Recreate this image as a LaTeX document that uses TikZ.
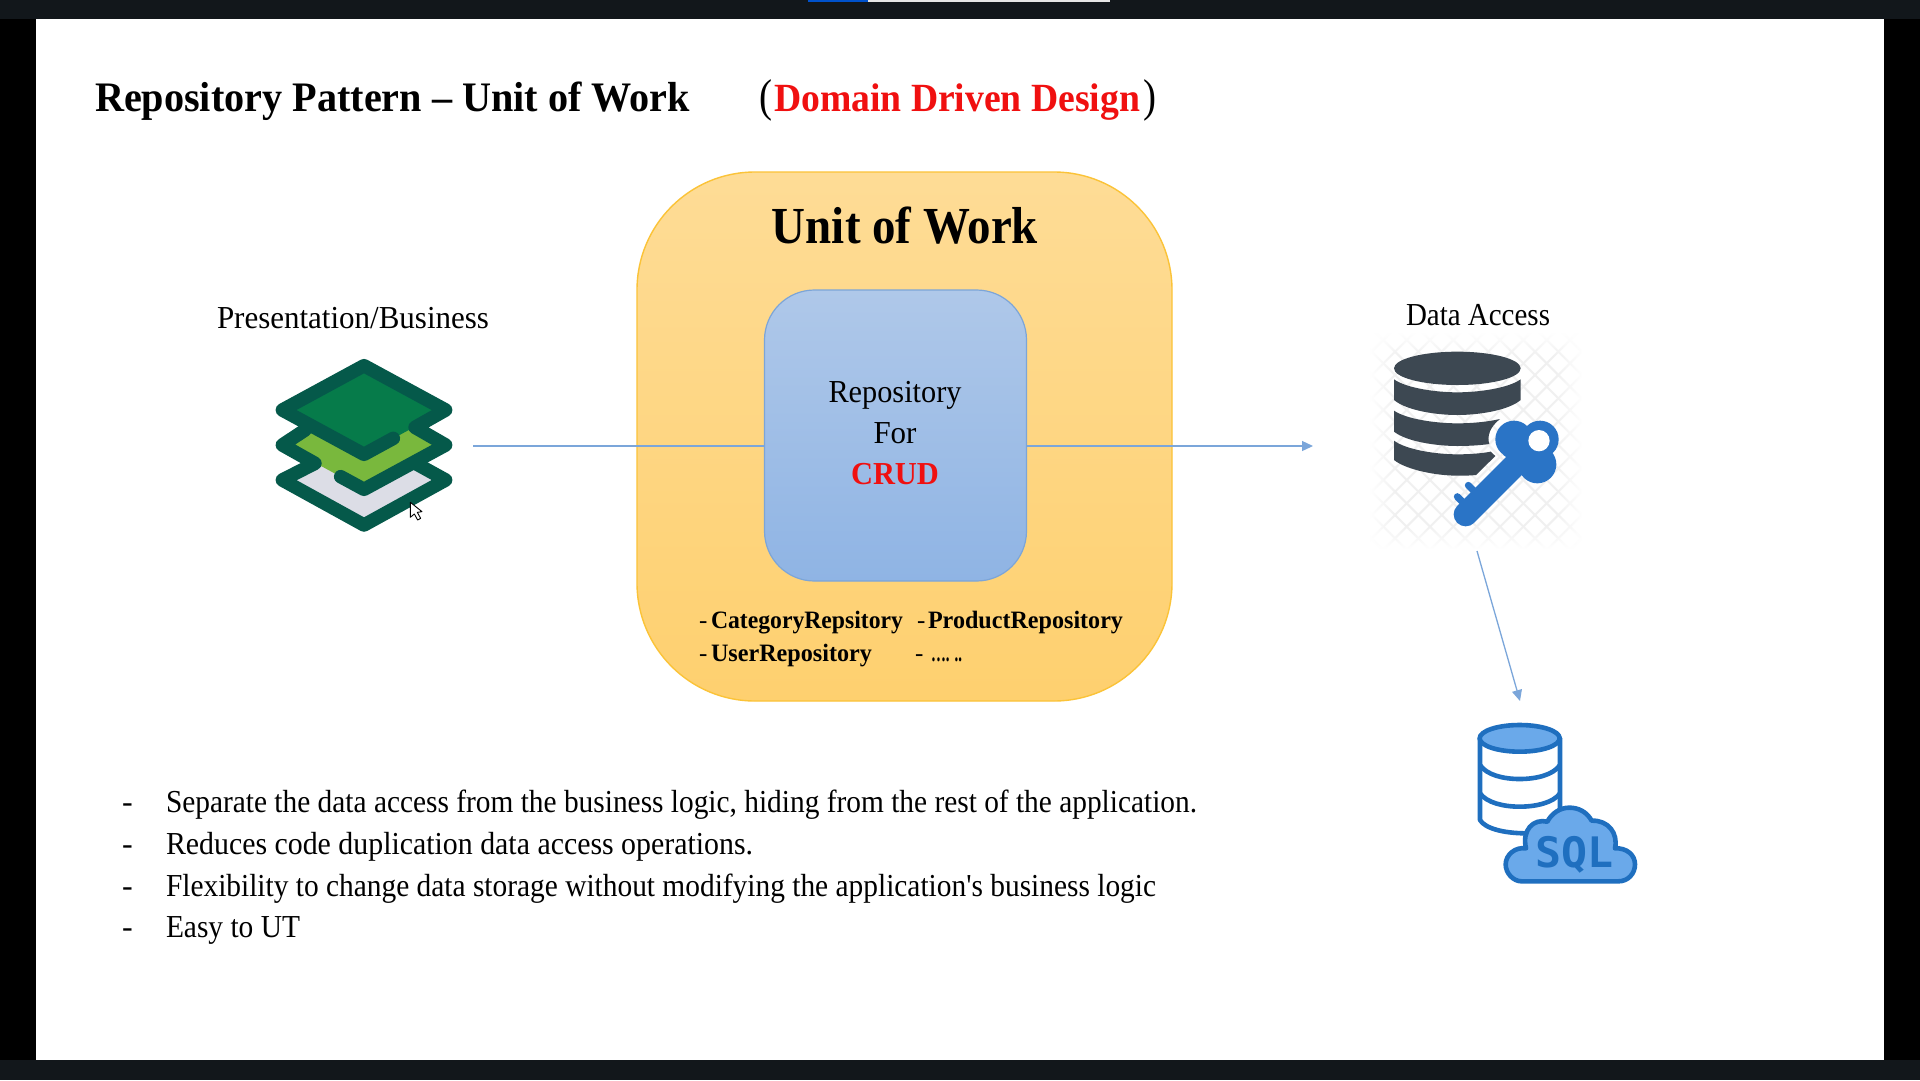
\documentclass[tikz,border=0pt]{standalone}
\usepackage{fontspec}
\usepackage{graphicx}
\setmainfont[Ligatures=TeXOff]{Liberation Serif}
\usetikzlibrary{arrows.meta,fadings}
\definecolor{barbg}{HTML}{12171B}
\definecolor{linkblue}{HTML}{7BA6DA}
\definecolor{layerdark}{HTML}{05594A}
\definecolor{layertop}{HTML}{067B4A}
\definecolor{layermid}{HTML}{79B83D}
\definecolor{layerlow}{HTML}{DCDDE6}
\definecolor{dbdark}{HTML}{3D4852}
\definecolor{keyblue}{HTML}{2A74C6}
\definecolor{sqlline}{HTML}{1F6FBF}
\definecolor{sqlfill}{HTML}{6AA9EA}
\definecolor{redtxt}{HTML}{F01010}
\definecolor{ffa}{HTML}{FEDC96}
\definecolor{ffb}{HTML}{FED06F}
\definecolor{fbord}{HTML}{FBC338}
\definecolor{bba}{HTML}{AFC8E9}
\definecolor{bbb}{HTML}{8FB4E4}
\definecolor{bbord}{HTML}{7CA5D8}
\newcommand{\fitw}[2]{\resizebox{#1pt}{\height}{#2}}
\newcommand{\fsz}[1]{\fontsize{#1}{#1}\selectfont}
\tikzset{
  txt/.style={inner sep=0pt,outer sep=0pt,anchor=base west,text=black},
  ctr/.style={inner sep=0pt,outer sep=0pt,anchor=base,text=black},
  link/.style={draw=linkblue,line width=1.3pt},
  linka/.style={link,-{Triangle[length=11pt,width=10pt]}},
  outerbox/.style={inner sep=0pt,outer sep=0pt,minimum width=535pt,minimum height=529pt,rounded corners=118pt,top color=ffa,bottom color=ffb,draw=fbord,line width=1.4pt},
  innerbox/.style={inner sep=0pt,outer sep=0pt,minimum width=262pt,minimum height=291pt,rounded corners=50pt,top color=bba,bottom color=bbb,draw=bbord,line width=1.2pt},
  stack/.style={draw=layerdark,line width=13.5pt,line cap=round,line join=round},
}
\begin{document}
\begin{tikzpicture}[x=1pt,y=-1pt]
\useasboundingbox (0,0) rectangle (1920,1080);
% screen frame
\fill[black] (0,0) rectangle (1920,1080);
\fill[white] (36,19) rectangle (1884,1060);
\fill[barbg] (0,0) rectangle (1920,19);
\fill[barbg] (0,1060) rectangle (1920,1080);
\fill[blue!60!cyan!80!black] (808,0) rectangle (868,1.5);
\fill[white!90!black] (868,0) rectangle (1110,1.5);
% title
\node[txt,font=\bfseries\fsz{42}] (title) at (95,111) {\fitw{595}{Repository Pattern – Unit of Work}};
\node[txt,font=\fsz{46}] (po) at (759,111) {\fitw{13}{(}};
\node[txt,font=\bfseries\fsz{40},text=redtxt] (ddd) at (774,111) {\fitw{366}{Domain Driven Design}};
\node[txt,font=\fsz{46}] (pc) at (1143,111) {\fitw{13}{)}};
% boxes
\node[outerbox] (uow) at (904.5,436.5) {};
\node[innerbox] (repo) at (895.5,435.5) {};
\node[ctr,font=\bfseries\fsz{52}] (uowt) at (905,243) {\fitw{266}{Unit of Work}};
\node[ctr,font=\fsz{32}] (r1) at (895,402) {\fitw{133}{Repository}};
\node[ctr,font=\fsz{32}] (r2) at (895,443) {\fitw{43}{For}};
\node[ctr,font=\bfseries\fsz{32},text=redtxt] (r3) at (895,484) {\fitw{88}{CRUD}};
\node[txt,font=\fsz{25}] (d1) at (699,628) {-};
\node[txt,font=\bfseries\fsz{25}] (l1) at (711,628) {\fitw{192}{CategoryRepsitory}};
\node[txt,font=\fsz{25}] (d2) at (917,628) {-};
\node[txt,font=\bfseries\fsz{25}] (l2) at (928,628) {\fitw{195}{ProductRepository}};
\node[txt,font=\fsz{25}] (d3) at (699,661) {-};
\node[txt,font=\bfseries\fsz{25}] (l3) at (711,661) {\fitw{161}{UserRepository}};
\node[txt,font=\fsz{25}] (d4) at (915,661) {-};
\node[txt,font=\bfseries\fsz{25}] (l4) at (931,661) {\fitw{31}{…. ..}};
% side labels
\node[ctr,font=\fsz{32}] (pb) at (353,328) {\fitw{272}{Presentation/Business}};
\node[ctr,font=\fsz{32}] (da) at (1478,325) {\fitw{144}{Data Access}};
% layers icon
\begin{scope}[shift={(240,330)},scale=1/3]
  \fill[layerlow] (372,317)--(617,450)--(372,585)--(127,450)--cycle;
  \fill[layermid] (372,212)--(617,345)--(372,478)--(127,345)--cycle;
  \fill[layertop] (372,107)--(617,240)--(372,373)--(127,240)--cycle;
  \draw[stack] (460,325)--(372,373)--(127,240)--(372,107)--(617,240)--(525,292)--(617,345)--(372,478)--(302,440);
  \draw[stack] (195,300)--(127,345)--(225,400)--(127,450)--(372,585)--(617,450)--(530,402);
  % pointer
  \draw[black,fill=white,line width=0.9pt,line join=round] (511,517)--(511,562)--(523,552)--(533,570)--(542,565)--(532,547)--(546,545)--cycle;
\end{scope}
\coordinate (pbout) at (473,446);
\coordinate (daout) at (1313,446);
% key database icon
\begin{scope}[shift={(1340,320)},scale=1/3]
  \begin{scope}
    \clip (90,40) rectangle (725,685);
    \foreach \k in {-700,-630,...,1400} {
      \draw[color=black!6,line width=2pt] (\k,0)--(\k+750,750);
      \draw[color=black!6,line width=2pt] (\k,750)--(\k+750,0);
    }
  \end{scope}
  \fill[white,path fading=east] (88,38) rectangle (170,687);
  \fill[white,path fading=west] (645,38) rectangle (727,687);
  \fill[white,path fading=south] (88,38) rectangle (727,110);
  \fill[white,path fading=north] (88,615) rectangle (727,687);
  \fill[dbdark] (352,145) ellipse [x radius=190,y radius=50];
  \fill[dbdark] (162,178) .. controls (200,205) and (290,217) .. (352,217) .. controls (414,217) and (504,205) .. (542,178) -- (542,240) .. controls (504,272) and (414,285) .. (352,285) .. controls (290,285) and (200,272) .. (162,240) -- cycle;
  \fill[dbdark] (162,272) .. controls (200,298) and (290,310) .. (352,310) .. controls (400,310) and (445,305) .. (480,297) .. controls (450,320) and (440,350) .. (448,372) .. controls (420,376) and (385,378) .. (352,378) .. controls (290,378) and (200,365) .. (162,335) -- cycle;
  \fill[dbdark] (162,362) .. controls (200,390) and (290,403) .. (352,403) .. controls (390,403) and (425,400) .. (452,395) -- (466,408) -- (408,465) .. controls (390,467) and (370,467) .. (352,467) .. controls (290,467) and (200,450) .. (162,420) -- cycle;
  % key
  \fill[keyblue] (522,358) circle [radius=56];
  \fill[keyblue] (600,358) circle [radius=56];
  \fill[keyblue] (592,433) circle [radius=57];
  \fill[keyblue] (530,340) -- (620,400) -- (560,455) -- (490,405) -- cycle;
  \draw[keyblue,line width=24pt,line cap=round] (377,583)--(530,430);
  \draw[keyblue,line width=7pt,line cap=round] (352,530)--(385,563);
  \draw[keyblue,line width=7pt,line cap=round] (385,496)--(418,529);
  \fill[white] (597,362) circle [radius=32];
\end{scope}
\coordinate (dbout) at (1477,551);
% sql icon
\begin{scope}[shift={(1450,680)},scale=1/3]
  \draw[sqlline,line width=4.6pt,fill=white,line join=round] (90,175) -- (90,420) .. controls (105,445) and (160,460) .. (230,460) -- (330,460) -- (330,175) -- cycle;
  \draw[sqlline,line width=4.6pt,fill=sqlfill] (209,175) ellipse [x radius=120,y radius=40];
  \draw[sqlline,line width=4.6pt] (90,255) .. controls (110,285) and (160,297) .. (209,297) .. controls (258,297) and (310,285) .. (330,255);
  \draw[sqlline,line width=4.6pt] (90,340) .. controls (110,368) and (160,380) .. (209,380) .. controls (258,380) and (310,368) .. (330,340);
  \draw[sqlline,line width=4.6pt,fill=sqlfill,line join=round] (215,604) -- (505,604)
    .. controls (535,604) and (555,580) .. (555,553)
    .. controls (555,525) and (530,503) .. (495,505)
    .. controls (505,460) and (475,420) .. (425,422)
    .. controls (410,395) and (385,383) .. (358,383)
    .. controls (330,383) and (305,400) .. (292,425)
    .. controls (250,415) and (215,450) .. (228,505)
    .. controls (195,500) and (167,525) .. (167,553)
    .. controls (167,580) and (190,604) .. (215,604) -- cycle;
  \node[inner sep=0pt,outer sep=0pt,text=sqlline,font=\bfseries\fontspec{DejaVu Sans Mono}\fsz{42}] (sqlt) at (373,525) {\fitw{78}{SQL}};
\end{scope}
\coordinate (sqlin) at (1520,701);
% connectors
\draw[link] (pbout) -- (pbout -| repo.west);
\draw[linka] (daout -| repo.east) -- (daout);
\draw[linka] (dbout) -- (sqlin);
% bullets
\foreach \nm/\yy in {a/812,b/854,c/896,e/937} {\node[txt,font=\fsz{32}] (dash\nm) at (122,\yy) {-};}
\node[txt,font=\fsz{32}] (b1) at (166,812) {\fitw{1031}{Separate the data access from the business logic, hiding from the rest of the application.}};
\node[txt,font=\fsz{32}] (b2) at (166,854) {\fitw{587}{Reduces code duplication data access operations.}};
\node[txt,font=\fsz{32}] (b3) at (166,896) {\fitw{990}{Flexibility to change data storage without modifying the application's business logic}};
\node[txt,font=\fsz{32}] (b4) at (166,937) {\fitw{134}{Easy to UT}};
\end{tikzpicture}
\end{document}
